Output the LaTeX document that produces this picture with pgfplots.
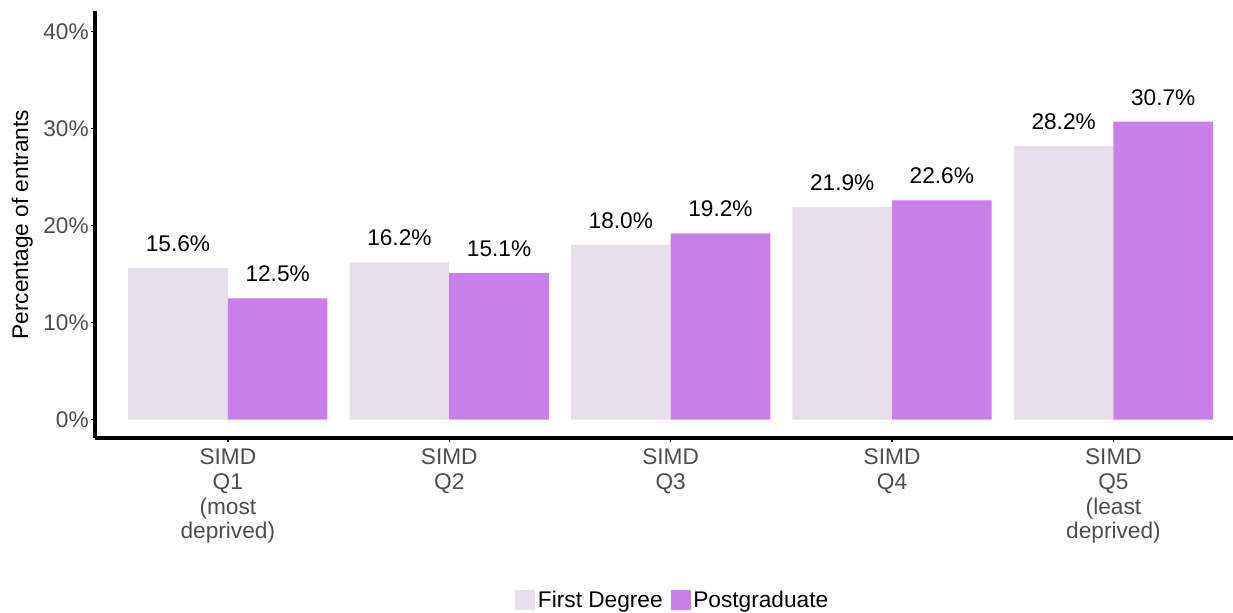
\documentclass[border=0pt]{standalone}
\usepackage{fontspec}
\setmainfont{Liberation Sans}
\usepackage{pgfplots}
\pgfplotsset{compat=1.18}
\definecolor{firstdeg}{HTML}{E9DEEC}
\definecolor{postgrad}{HTML}{C97FE9}
\definecolor{ticktext}{HTML}{4D4D4D}

\begin{document}
\begin{tikzpicture}
\useasboundingbox (-71.25pt,-130.5pt) rectangle (853.5pt,328.5pt);
\begin{axis}[
    at={(0,0)}, anchor=south west,
    scale only axis, width=853.5pt, height=319.9pt,
    xmin=0.4, xmax=5.54, ymin=-1.9, ymax=42.06,
    axis lines*=left,
    axis line style={line width=2.6pt, black},
    /pgf/number format/assume math mode=true,
    ybar, bar width=0.45,
    xtick={1,2,3,4,5},
    xticklabels={{SIMD\\Q1\\(most\\deprived)},{SIMD\\Q2},{SIMD\\Q3},{SIMD\\Q4},{SIMD\\Q5\\(least\\deprived)}},
    ytick={0,10,20,30,40},
    yticklabel={\pgfmathprintnumber{\tick}\%},
    tick align=outside, major tick length=3pt,
    tick style={black, line width=1.1pt},
    yticklabel style={font=\fontsize{17}{20}\selectfont, text=ticktext, inner sep=1.5pt},
    xticklabel style={align=center, font=\fontsize{17}{18.5}\selectfont, text=ticktext, inner sep=2pt, yshift=-3pt},
    ylabel={Percentage of entrants},
    ylabel style={at={(axis description cs:-0.064,0.5)}, anchor=center, font=\fontsize{17}{20}\selectfont},
    legend style={at={(axis description cs:0.508,-0.38)}, anchor=center, draw=none,
        legend columns=2, font=\fontsize{17}{20}\selectfont,
        /tikz/every even column/.append style={column sep=4pt}},
    nodes near coords={\pgfmathprintnumber[fixed,fixed zerofill,precision=1]{\pgfplotspointmeta}\%},
    nodes near coords style={anchor=south, inner sep=0pt, yshift=12pt, text=black, font=\fontsize{17}{20}\selectfont},
    clip=false,
]
\addplot[bar shift=-0.225, fill=firstdeg, draw=none,
    legend image code/.code={\fill[firstdeg] (0pt,-7.5pt) rectangle (15pt,7.5pt);}]
    coordinates {(1,15.6) (2,16.2) (3,18.0) (4,21.9) (5,28.2)};
\addlegendentry{First Degree}
\addplot[bar shift=0.225, fill=postgrad, draw=none,
    legend image code/.code={\fill[postgrad] (0pt,-7.5pt) rectangle (15pt,7.5pt);}]
    coordinates {(1,12.5) (2,15.1) (3,19.2) (4,22.6) (5,30.7)};
\addlegendentry{Postgraduate}
\end{axis}
\end{tikzpicture}
\end{document}
